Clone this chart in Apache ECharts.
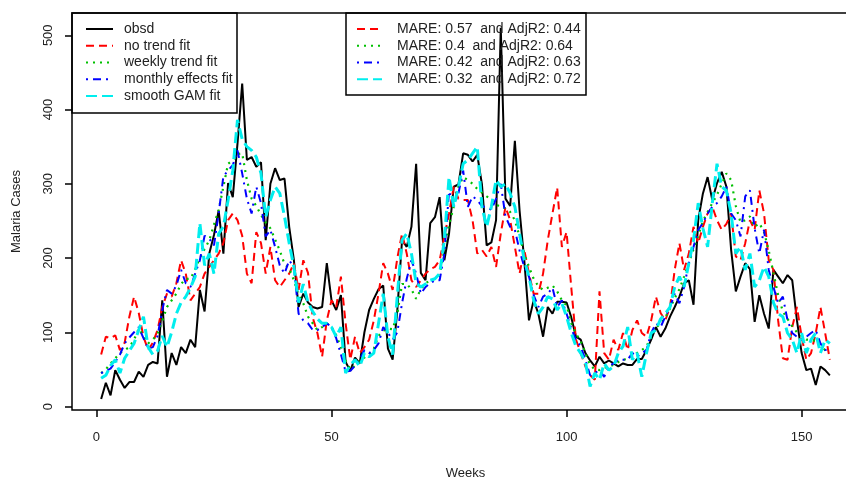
<!DOCTYPE html>
<html>
<head>
<meta charset="utf-8">
<script src="https://cdn.jsdelivr.net/npm/echarts@6/dist/echarts.min.js"></script>
<style>
    html, body { margin: 0; padding: 0; background: #fff; }
    #chart { width: 846px; height: 478px; }
</style>
</head>
<body>
<div id="chart"></div>
<script>
// weekly malaria cases, weeks 1..156
const obsd = [10,32,15,49,36,25,33,33,47,40,56,60,58,143,40,72,56,80,72,90,
    80,157,128,206,231,264,206,301,282,354,435,332,336,323,329,224,300,321,305,307,
    242,197,134,152,140,134,132,134,193,143,130,150,60,48,66,58,100,130,145,158,
    163,78,63,130,224,215,242,327,180,170,247,255,282,197,233,296,299,341,339,330,
    339,299,217,221,251,510,280,270,358,264,197,116,143,125,94,134,125,141,141,140,
    120,94,90,72,62,54,67,58,62,58,54,58,56,56,64,64,76,90,107,94,
    105,121,134,148,166,170,137,251,287,309,278,301,316,296,211,155,175,193,185,114,
    150,125,105,184,175,166,177,170,116,72,49,51,29,54,49,42];

const noTrend = [70,94,92,96,76,86,121,148,126,94,76,86,103,134,152,148,166,197,179,143,
    152,161,179,188,197,206,220,251,260,251,230,179,166,235,220,179,215,170,161,170,
    179,193,157,197,180,120,99,67,116,143,134,175,112,63,94,72,80,90,116,152,
    193,179,157,200,233,206,170,161,170,179,185,188,197,229,260,296,280,278,278,251,
    206,211,202,215,188,233,269,251,215,179,211,179,152,152,179,224,260,295,215,235,
    160,90,72,54,42,36,155,72,63,90,76,99,76,103,116,99,94,116,148,126,
    116,134,184,220,184,206,242,220,242,260,269,251,238,246,260,202,197,220,251,238,
    291,260,197,184,116,65,63,107,134,94,63,72,99,134,99,63];

const weeklyTrend = [45,50,58,65,72,76,80,90,105,95,85,90,98,115,134,143,152,165,172,172,
    185,200,212,224,245,265,296,327,332,340,341,305,280,270,258,248,240,225,210,192,
    186,170,150,139,121,112,103,107,112,107,96,80,62,50,55,62,66,70,78,95,
    102,105,104,125,165,165,158,145,158,166,170,172,176,211,245,269,296,309,305,300,
    293,288,283,279,272,269,267,262,251,229,206,188,172,162,157,160,163,155,143,136,
    112,98,88,72,56,50,49,52,54,56,60,63,64,68,72,76,81,94,106,112,
    120,132,146,158,175,193,212,230,250,262,274,285,300,314,305,270,248,251,256,242,
    247,235,210,180,150,128,118,108,100,95,90,90,88,82,76,74];

const monthlyEffects = [45,48,51,60,70,85,93,100,107,92,78,80,95,130,157,152,163,184,166,161,
    179,197,230,226,217,260,310,318,325,345,314,280,260,296,274,229,238,215,190,179,
    197,188,125,116,112,103,103,107,112,107,92,70,47,48,55,63,76,72,76,85,
    107,99,90,100,139,172,197,179,152,161,166,170,170,206,290,270,287,318,269,283,
    278,270,268,265,280,300,256,242,238,210,188,175,150,134,148,152,160,134,143,125,
    105,90,81,63,42,45,49,40,54,58,63,63,63,72,67,72,76,99,112,107,
    121,134,152,139,161,193,215,238,247,260,269,274,283,296,260,251,229,283,291,240,
    206,238,184,161,139,148,116,99,94,90,94,99,103,85,76,78];

const smoothGam = [38,42,55,63,45,65,75,85,103,121,80,70,75,95,80,100,125,140,148,160,
    175,247,190,206,179,233,242,278,318,386,360,350,345,336,314,255,278,296,287,256,
    220,188,140,165,140,128,118,112,112,107,94,107,45,56,63,54,72,67,72,112,
    152,94,70,150,224,233,206,166,161,165,170,172,179,224,309,269,296,327,332,341,
    350,269,242,269,305,296,300,287,269,233,197,175,143,125,134,148,145,130,139,121,
    99,81,72,60,27,45,36,58,49,54,72,81,107,63,72,40,72,99,103,118,
    125,134,161,175,161,193,224,274,240,215,274,327,296,291,260,206,215,184,206,161,
    170,188,175,140,125,121,99,90,72,99,72,90,99,72,90,85];

const seriesNames = ['obsd', 'no trend fit', 'weekly trend fit', 'monthly effects fit', 'smooth GAM fit'];
const scoreNames = ['MARE: 0.57  and AdjR2: 0.44', 'MARE: 0.4  and AdjR2: 0.64',
    'MARE: 0.42  and AdjR2: 0.63', 'MARE: 0.32  and AdjR2: 0.72'];
const xTicks = [0, 50, 100, 150];
const yTicks = [0, 100, 200, 300, 400, 500];

const styles = [
    {color: '#000000', width: 2, type: 'solid'},
    {color: '#ff0000', width: 2, type: [8, 5]},
    {color: '#00c000', width: 2.2, type: [2, 5]},
    {color: '#0000ff', width: 2, type: [2, 5, 8, 5]},
    {color: '#00eeee', width: 3, type: [11, 5]}
];

function toPoints(arr){
    return arr.map(function(v, i){ return [i + 1, v]; });
}

const allData = [obsd, noTrend, weeklyTrend, monthlyEffects, smoothGam];
const series = [];
allData.forEach(function(arr, k){
    series.push({
        name: seriesNames[k],
        type: 'line',
        data: toPoints(arr),
        symbol: 'none',
        lineStyle: {color: styles[k].color, width: styles[k].width, type: styles[k].type},
        itemStyle: {color: styles[k].color}
    });
});
// dummy series, only used to draw the second legend
scoreNames.forEach(function(n, k){
    const s = styles[k + 1];
    series.push({
        name: n,
        type: 'line',
        data: [],
        symbol: 'none',
        lineStyle: {color: s.color, width: s.width, type: s.type},
        itemStyle: {color: s.color}
    });
});

const font = "'Liberation Sans', Arial, Helvetica, sans-serif";
// legend shows only the line, no marker
const noMarker = {color: 'transparent', borderColor: 'transparent', borderWidth: 0};

const chart = echarts.init(document.getElementById('chart'), null, {renderer: 'canvas'});
const option = {
    animation: false,
    backgroundColor: '#ffffff',
    grid: {
        left: 72, top: 13, width: 787, height: 397,
        outerBoundsMode: 'none', containLabel: false,
        show: true, borderColor: '#000', borderWidth: 1.5, backgroundColor: 'transparent'
    },
    xAxis: {
        type: 'value',
        min: -5.2, max: 162.2,
        name: 'Weeks', nameLocation: 'middle', nameGap: 57,
        nameTextStyle: {fontFamily: font, fontSize: 13, color: '#222'},
        axisLine: {show: false, onZero: false},
        axisTick: {show: true, inside: false, length: 7, customValues: xTicks,
            lineStyle: {color: '#000', width: 1.5}},
        axisLabel: {customValues: xTicks, margin: 21, fontFamily: font, fontSize: 13, color: '#222'},
        splitLine: {show: false}
    },
    yAxis: {
        type: 'value',
        min: -4.7, max: 530,
        name: 'Malaria Cases', nameLocation: 'middle', nameGap: 49,
        nameTextStyle: {fontFamily: font, fontSize: 13, color: '#222'},
        axisLine: {show: false, onZero: false},
        axisTick: {show: true, inside: false, length: 7, customValues: yTicks,
            lineStyle: {color: '#000', width: 1.5}},
        axisLabel: {customValues: yTicks, rotate: 90, margin: 17, fontFamily: font, fontSize: 13, color: '#222'},
        splitLine: {show: false}
    },
    legend: [{
        data: seriesNames,
        orient: 'vertical',
        left: 85, top: 22, padding: 0,
        itemWidth: 27, itemHeight: 14, itemGap: 2.75,
        selectedMode: false,
        itemStyle: noMarker,
        textStyle: {fontFamily: font, fontSize: 14, color: '#222', padding: [0, 0, 0, 6]}
    }, {
        data: scoreNames,
        orient: 'vertical',
        left: 356, top: 22, padding: 0,
        itemWidth: 25, itemHeight: 14, itemGap: 2.75,
        selectedMode: false,
        itemStyle: noMarker,
        textStyle: {fontFamily: font, fontSize: 14, color: '#222', padding: [0, 0, 0, 10]}
    }],
    graphic: [
        {type: 'rect', shape: {x: 72, y: 13, width: 165, height: 100},
            style: {fill: 'none', stroke: '#000', lineWidth: 1.5}, z: 10},
        {type: 'rect', shape: {x: 346, y: 13, width: 240, height: 82},
            style: {fill: 'none', stroke: '#000', lineWidth: 1.5}, z: 10}
    ],
    series: series
};
chart.setOption(option);
</script>
</body>
</html>
